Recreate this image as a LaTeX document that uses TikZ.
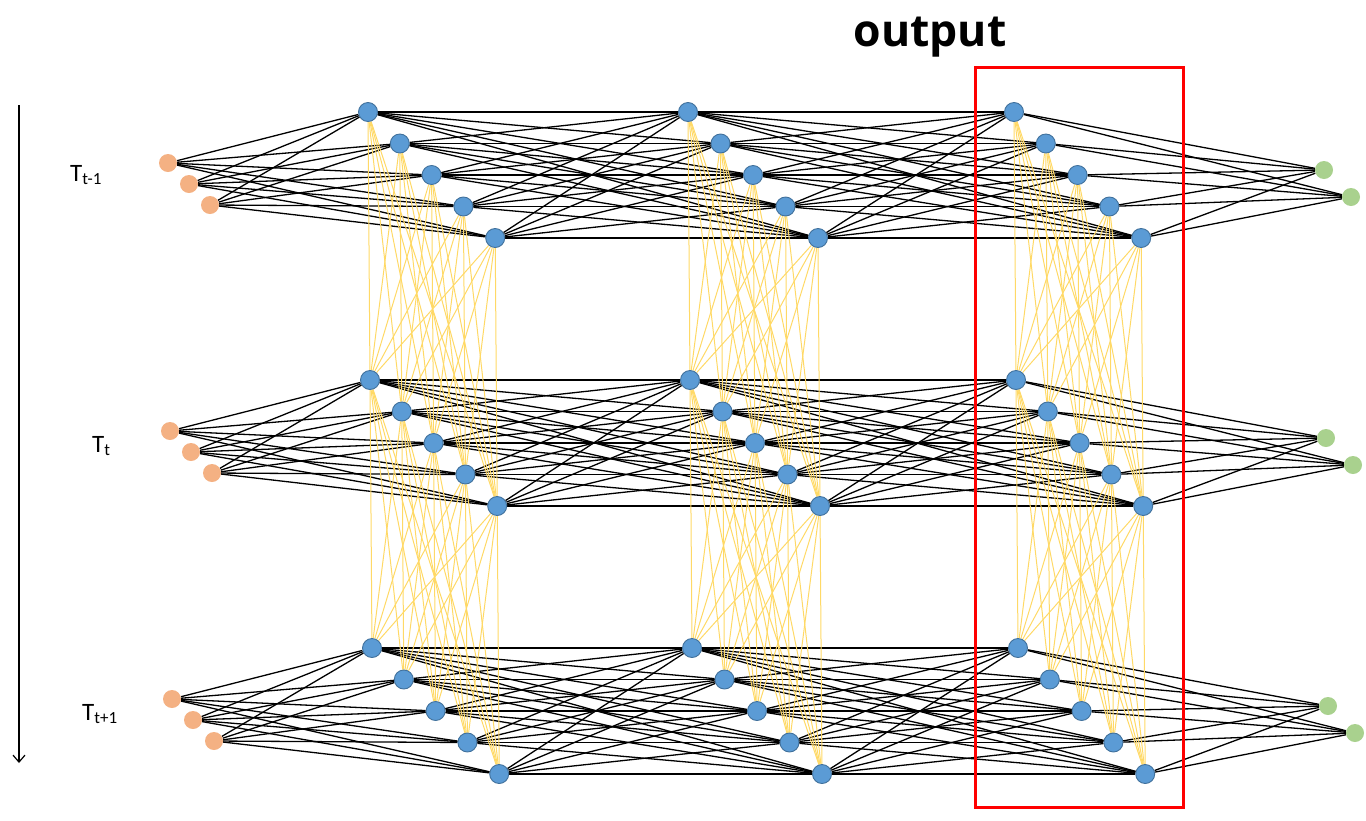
\documentclass[tikz,border=0pt]{standalone}
\usepackage{fontspec}
\setmainfont{Carlito}
\newfontfamily\headfont{Open Sans}
\usepackage{tikz}
\usetikzlibrary{arrows.meta,backgrounds}

\definecolor{unitblue}{HTML}{5B9BD5}
\definecolor{unitedge}{HTML}{41719C}
\definecolor{inorange}{HTML}{F4B183}
\definecolor{outgreen}{HTML}{A9D18E}
\definecolor{linkyellow}{HTML}{FFD966}

\newcommand{\tlabel}[2]{T\raisebox{-3.5pt}{\fontsize{17}{17}\selectfont #2}}

\begin{document}
\begin{tikzpicture}[
  x=1pt, y=-1pt,
  hidden/.style={circle, draw=unitedge, line width=0.9pt, fill=unitblue, inner sep=0pt, minimum size=19pt},
  input/.style={circle, fill=inorange, inner sep=0pt, minimum size=18pt},
  output/.style={circle, fill=outgreen, inner sep=0pt, minimum size=18pt},
  link/.style={black, line width=1.3pt},
  timelink/.style={linkyellow, line width=1pt},
  steplabel/.style={anchor=base west, font=\fontsize{25}{25}\selectfont, inner sep=0pt}
]
\useasboundingbox (0,0) rectangle (1366,820);

% units of the three time steps
\foreach \r in {1,2,3} {
  \pgfmathsetmacro{\yb}{268*(\r-1)}
  \pgfmathsetmacro{\xs}{2*(\r-1)}
  \foreach \i in {1,2,3}
    \node[input] (in-\r-\i) at ({168+\xs+21*(\i-1)}, {163+\yb+21*(\i-1)}) {};
  \foreach \c/\xc/\dx in {1/368/31.8, 2/688/32.5, 3/1014/31.8}
    \foreach \i in {1,...,5}
      \node[hidden] (h-\r-\c-\i) at ({\xc+\xs+\dx*(\i-1)}, {112+\yb+31.5*(\i-1)}) {};
  \foreach \i in {1,2}
    \node[output] (out-\r-\i) at ({1324+\xs+27*(\i-1)}, {170+\yb+27*(\i-1)}) {};
}

% connections
\begin{pgfonlayer}{background}
\foreach \r in {1,2,3} {
  \foreach \i in {1,2,3}
    \foreach \j in {1,...,5}
      \draw[link] (in-\r-\i) -- (h-\r-1-\j);
  \foreach \c/\n in {1/2, 2/3}
    \foreach \i in {1,...,5}
      \foreach \j in {1,...,5}
        \draw[link] (h-\r-\c-\i) -- (h-\r-\n-\j);
  \foreach \i in {1,...,5}
    \foreach \j in {1,2}
      \draw[link] (h-\r-3-\i) -- (out-\r-\j);
}
\foreach \r/\s in {1/2, 2/3}
  \foreach \c in {1,2,3}
    \foreach \i in {1,...,5}
      \foreach \j in {1,...,5}
        \draw[timelink] (h-\r-\c-\i) -- (h-\s-\c-\j);
\end{pgfonlayer}

% time labels and axis
\node[steplabel] (lab-1) at (70,181) {\tlabel{T}{t-1}};
\node[steplabel] (lab-2) at (92,452) {\tlabel{T}{t}};
\node[steplabel] (lab-3) at (82,720) {\tlabel{T}{t+1}};
\coordinate (axis-top) at (19,105);
\coordinate (axis-end) at (19,763);
\draw[line width=1.2pt, -{Straight Barb[length=7pt, width=12pt]}] (axis-top) -- (axis-end);

% output frame
\node[draw=red, line width=3pt, minimum width=208pt, minimum height=740pt, inner sep=0pt] (frame) at (1079.5,437.5) {};
\node[font=\headfont\bfseries\fontsize{44.5}{44.5}\selectfont] (outlab) at (930,37) {output};
\end{tikzpicture}
\end{document}
